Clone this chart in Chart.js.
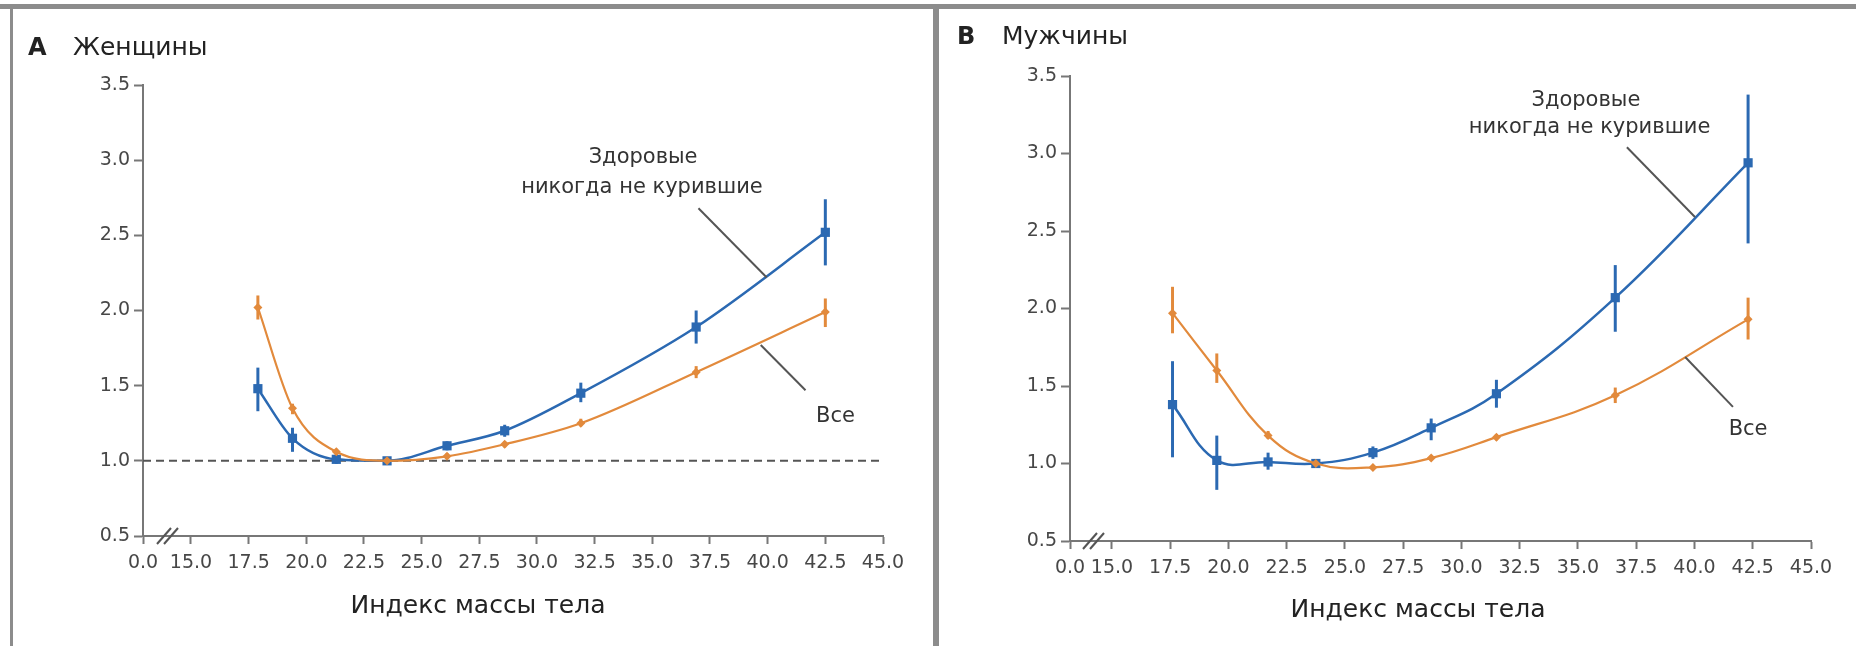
<!DOCTYPE html>
<html>
<head>
<meta charset="utf-8">
<script src="https://cdn.jsdelivr.net/npm/chart.js@4.4.1/dist/chart.umd.min.js"></script>
<style>
  html, body { margin: 0; padding: 0; background: #ffffff; width: 1856px; height: 646px; overflow: hidden; }
  .panel { position: absolute; top: 0; height: 646px; }
  #wrapA { left: 14px; width: 919px; }
  #wrapB { left: 940px; width: 916px; }
  .rule { position: absolute; background: #8c8c8c; }
</style>
</head>
<body>
<div class="panel" id="wrapA"><canvas id="chartA" width="919" height="646"></canvas></div>
<div class="panel" id="wrapB"><canvas id="chartB" width="916" height="646"></canvas></div>
<div class="rule" style="left:0;top:4px;width:1856px;height:5px"></div>
<div class="rule" style="left:10px;top:4px;width:3px;height:642px"></div>
<div class="rule" style="left:933px;top:4px;width:6px;height:642px"></div>
<script>
// Body-mass-index groups and relative mortality (hazard ratio, 95% CI)

// Women
const womenBmi          = [17.9, 19.4, 21.3, 23.5, 26.1, 28.6, 31.9, 36.9, 42.5];
const womenNeverSmoked  = [1.48, 1.15, 1.01, 1.00, 1.10, 1.20, 1.45, 1.89, 2.52];
const womenNeverLow     = [1.33, 1.06, 0.98, 1.00, 1.07, 1.16, 1.39, 1.78, 2.30];
const womenNeverHigh    = [1.62, 1.22, 1.04, 1.00, 1.13, 1.24, 1.52, 2.00, 2.74];
const womenAll          = [2.02, 1.35, 1.06, 1.00, 1.03, 1.11, 1.25, 1.59, 1.99];
const womenAllLow       = [1.94, 1.31, 1.04, 1.00, 1.02, 1.09, 1.23, 1.55, 1.89];
const womenAllHigh      = [2.10, 1.38, 1.08, 1.00, 1.05, 1.13, 1.28, 1.63, 2.08];

// Men
const menBmi            = [17.6, 19.5, 21.7, 23.75, 26.2, 28.7, 31.5, 36.6, 42.3];
const menNeverSmoked    = [1.38, 1.02, 1.01, 1.00, 1.07, 1.23, 1.45, 2.07, 2.94];
const menNeverLow       = [1.04, 0.83, 0.96, 1.00, 1.03, 1.15, 1.36, 1.85, 2.42];
const menNeverHigh      = [1.66, 1.18, 1.07, 1.00, 1.11, 1.29, 1.54, 2.28, 3.38];
const menAll            = [1.97, 1.60, 1.18, 1.00, 0.975, 1.035, 1.17, 1.44, 1.93];
const menAllLow         = [1.84, 1.52, 1.16, 1.00, 0.96, 1.02, 1.15, 1.39, 1.80];
const menAllHigh        = [2.14, 1.71, 1.21, 1.00, 0.99, 1.05, 1.19, 1.49, 2.07];

// Axis ticks
const xTicks = [15.0, 17.5, 20.0, 22.5, 25.0, 27.5, 30.0, 32.5, 35.0, 37.5, 40.0, 42.5, 45.0];
const xOriginLabel = '0.0';
const yTicks = [0.5, 1.0, 1.5, 2.0, 2.5, 3.0, 3.5];

// Text
const xAxisTitle = 'Индекс массы тела';
const neverLabel = ['Здоровые', 'никогда не курившие'];
const allLabel = 'Все';

const BLUE = '#2b69b2';
const ORANGE = '#e28a3c';
const AXIS = '#777777';
const INK = '#222222';
const SANS = '"DejaVu Sans", "Liberation Sans", sans-serif';

const toPoints = (xs, ys) => xs.map((x, i) => ({ x, y: ys[i] }));

// Error bars, reference line, labels, leader lines and axis-break marks
const panelDecor = {
  id: 'panelDecor',
  beforeDatasetsDraw(chart, args, o) {
    const { ctx, chartArea: a, scales: { x, y } } = chart;
    ctx.save();
    if (o.refLine) {
      ctx.strokeStyle = '#555';
      ctx.lineWidth = 2;
      ctx.setLineDash([8, 5]);
      const py = y.getPixelForValue(1.0);
      ctx.beginPath();
      ctx.moveTo(a.left, py);
      ctx.lineTo(a.right, py);
      ctx.stroke();
      ctx.setLineDash([]);
    }
    chart.data.datasets.forEach(ds => {
      ctx.strokeStyle = ds.borderColor;
      ctx.lineWidth = 3;
      ds.data.forEach((p, i) => {
        const px = x.getPixelForValue(p.x);
        ctx.beginPath();
        ctx.moveTo(px, y.getPixelForValue(ds.errLow[i]));
        ctx.lineTo(px, y.getPixelForValue(ds.errHigh[i]));
        ctx.stroke();
      });
    });
    ctx.restore();
  },
  afterDraw(chart, args, o) {
    const { ctx, chartArea: a, scales: { x, y } } = chart;
    ctx.save();
    // panel letter and title
    ctx.fillStyle = INK;
    ctx.textBaseline = 'alphabetic';
    ctx.textAlign = 'left';
    ctx.font = 'bold 24px ' + SANS;
    ctx.fillText(o.letter, o.letterX, o.titleY);
    ctx.font = '25px ' + SANS;
    ctx.fillText(o.title, o.titleX, o.titleY);

    // axis title
    ctx.textAlign = 'center';
    ctx.font = '25px ' + SANS;
    ctx.fillText(xAxisTitle, a.left + o.axisTitleDX, a.bottom + o.axisTitleDY);

    // annotations
    ctx.font = '21px ' + SANS;
    ctx.fillStyle = '#333';
    o.notes.forEach(n => {
      n.lines.forEach(l => ctx.fillText(l.text, x.getPixelForValue(l.x), y.getPixelForValue(l.y)));
      ctx.strokeStyle = '#555';
      ctx.lineWidth = 2;
      ctx.beginPath();
      ctx.moveTo(x.getPixelForValue(n.from[0]), y.getPixelForValue(n.from[1]));
      ctx.lineTo(x.getPixelForValue(n.to[0]), y.getPixelForValue(n.to[1]));
      ctx.stroke();
    });

    // axis break "//"
    ctx.strokeStyle = '#555';
    ctx.lineWidth = 2;
    const bx = a.left + o.breakDX, by = a.bottom;
    [-4, 3].forEach(d => {
      ctx.beginPath();
      ctx.moveTo(bx + d - 7, by + 8);
      ctx.lineTo(bx + d + 7, by - 8);
      ctx.stroke();
    });
    ctx.restore();
  }
};

function makePanel(id, p) {
  return new Chart(document.getElementById(id), {
    type: 'line',
    data: {
      datasets: [
        {
          label: allLabel,
          data: toPoints(p.bmi, p.all),
          errLow: p.allLow, errHigh: p.allHigh,
          borderColor: ORANGE, backgroundColor: ORANGE,
          borderWidth: 2.2, tension: 0.4, cubicInterpolationMode: p.curve,
          pointStyle: 'rectRot', pointRadius: 4.5, pointBorderWidth: 0
        },
        {
          label: neverLabel.join(' '),
          data: toPoints(p.bmi, p.never),
          errLow: p.neverLow, errHigh: p.neverHigh,
          borderColor: BLUE, backgroundColor: BLUE,
          borderWidth: 2.5, tension: 0.4, cubicInterpolationMode: p.curve,
          pointStyle: 'rect', pointRadius: 6.5, pointBorderWidth: 0
        }
      ]
    },
    options: {
      responsive: false,
      animation: false,
      devicePixelRatio: 1,
      layout: { padding: { top: p.padTop, right: p.padRight, left: 0, bottom: 0 } },
      plugins: {
        legend: { display: false },
        tooltip: { enabled: false },
        panelDecor: p.decor
      },
      scales: {
        x: {
          type: 'linear',
          min: p.xMin, max: 45,
          afterFit: s => { s.height = p.xAxisH; },
          afterBuildTicks: s => { s.ticks = [{ value: p.xMin }].concat(xTicks.map(v => ({ value: v }))); },
          ticks: {
            autoSkip: false, maxRotation: 0, padding: 8,
            color: '#474747',
            font: { family: SANS, size: 19 },
            callback: v => (v === p.xMin ? xOriginLabel : Number(v).toFixed(1))
          },
          grid: { drawOnChartArea: false, drawTicks: true, tickLength: 8, tickWidth: 2, tickColor: AXIS },
          border: { display: true, color: AXIS, width: 2 }
        },
        y: {
          min: 0.5, max: 3.5,
          afterFit: s => { s.width = p.yAxisW; },
          afterBuildTicks: s => { s.ticks = yTicks.map(v => ({ value: v })); },
          ticks: {
            padding: 4,
            color: '#474747',
            font: { family: SANS, size: 19 },
            callback: v => Number(v).toFixed(1)
          },
          grid: { drawOnChartArea: false, drawTicks: true, tickLength: 9, tickWidth: 2, tickColor: AXIS },
          border: { display: true, color: AXIS, width: 2 }
        }
      }
    },
    plugins: [panelDecor]
  });
}

makePanel('chartA', {
  bmi: womenBmi,
  never: womenNeverSmoked, neverLow: womenNeverLow, neverHigh: womenNeverHigh,
  all: womenAll, allLow: womenAllLow, allHigh: womenAllHigh,
  curve: 'monotone',
  xMin: 12.92, padTop: 85, padRight: 50, xAxisH: 110, yAxisW: 129,
  decor: {
    letter: 'А', letterX: 14, title: 'Женщины', titleX: 59, titleY: 55,
    refLine: true,
    axisTitleDX: 335, axisTitleDY: 77, breakDX: 25,
    notes: [
      { lines: [{ text: neverLabel[0], x: 34.6, y: 2.98 }, { text: neverLabel[1], x: 34.55, y: 2.78 }],
        from: [37.0, 2.68], to: [39.96, 2.22] },
      { lines: [{ text: allLabel, x: 42.94, y: 1.26 }],
        from: [39.7, 1.77], to: [41.64, 1.47] }
    ]
  }
});

makePanel('chartB', {
  bmi: menBmi,
  never: menNeverSmoked, neverLow: menNeverLow, neverHigh: menNeverHigh,
  all: menAll, allLow: menAllLow, allHigh: menAllHigh,
  curve: 'default',
  xMin: 13.2, padTop: 76, padRight: 45, xAxisH: 105, yAxisW: 130,
  decor: {
    letter: 'В', letterX: 17, title: 'Мужчины', titleX: 62, titleY: 44,
    refLine: false,
    axisTitleDX: 348, axisTitleDY: 76, breakDX: 24,
    notes: [
      { lines: [{ text: neverLabel[0], x: 35.34, y: 3.306 }, { text: neverLabel[1], x: 35.5, y: 3.132 }],
        from: [37.1, 3.04], to: [40.02, 2.59] },
      { lines: [{ text: allLabel, x: 42.3, y: 1.184 }],
        from: [39.6, 1.687], to: [41.65, 1.365] }
    ]
  }
});
</script>
</body>
</html>
